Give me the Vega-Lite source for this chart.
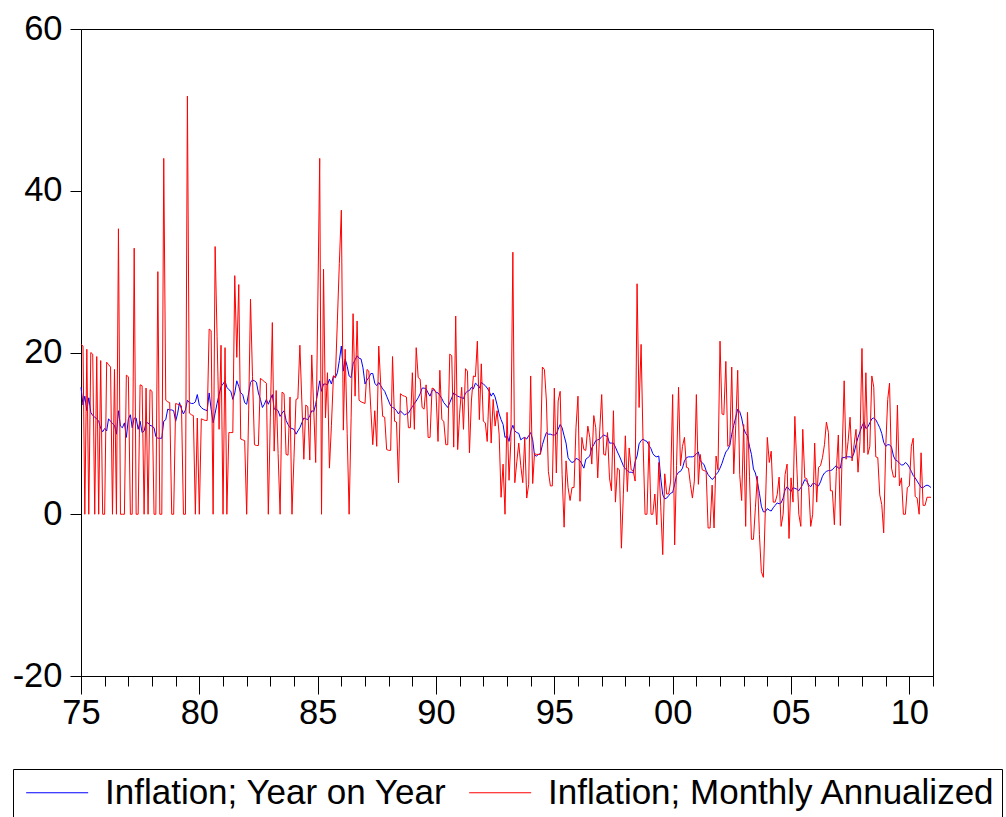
{
"$schema": "https://vega.github.io/schema/vega-lite/v6.json",
"width": 852, "height": 647,
"autosize": {"type": "none"},
"padding": {"left": 81, "top": 29, "right": 73, "bottom": 141},
"background": "white",
"config": {"view": {"stroke": "black", "strokeWidth": 1}, "font": "Liberation Sans"},
"data": {"values": [
{"date":"1975-01","yoy":15.7,"mom":21.0},{"date":"1975-02","yoy":13.5,"mom":20.8},{"date":"1975-03","yoy":14.6,"mom":0},{"date":"1975-04","yoy":12.8,"mom":20.4},{"date":"1975-05","yoy":14.4,"mom":0},{"date":"1975-06","yoy":12.6,"mom":20.0},{"date":"1975-07","yoy":12.2,"mom":19.8},{"date":"1975-08","yoy":12.0,"mom":0},{"date":"1975-09","yoy":11.8,"mom":19.5},{"date":"1975-10","yoy":11.5,"mom":0},{"date":"1975-11","yoy":10.6,"mom":19.0},{"date":"1975-12","yoy":10.2,"mom":0},
{"date":"1976-01","yoy":10.6,"mom":0},{"date":"1976-02","yoy":10.3,"mom":18.8},{"date":"1976-03","yoy":11.8,"mom":18.5},{"date":"1976-04","yoy":11.5,"mom":18.2},{"date":"1976-05","yoy":11.2,"mom":0},{"date":"1976-06","yoy":11.0,"mom":17.9},{"date":"1976-07","yoy":9.9,"mom":0},{"date":"1976-08","yoy":12.8,"mom":35.3},{"date":"1976-09","yoy":10.9,"mom":0},{"date":"1976-10","yoy":10.7,"mom":0},{"date":"1976-11","yoy":11.3,"mom":0},{"date":"1976-12","yoy":9.5,"mom":17.2},
{"date":"1977-01","yoy":11.8,"mom":17.0},{"date":"1977-02","yoy":12.3,"mom":0},{"date":"1977-03","yoy":10.7,"mom":0},{"date":"1977-04","yoy":11.9,"mom":32.9},{"date":"1977-05","yoy":11.9,"mom":0},{"date":"1977-06","yoy":10.5,"mom":0},{"date":"1977-07","yoy":11.5,"mom":16.0},{"date":"1977-08","yoy":10.1,"mom":15.9},{"date":"1977-09","yoy":10.3,"mom":0},{"date":"1977-10","yoy":11.3,"mom":15.6},{"date":"1977-11","yoy":11.3,"mom":0},{"date":"1977-12","yoy":11.0,"mom":15.4},
{"date":"1978-01","yoy":10.9,"mom":15.2},{"date":"1978-02","yoy":10.7,"mom":0},{"date":"1978-03","yoy":9.6,"mom":0},{"date":"1978-04","yoy":9.4,"mom":30.0},{"date":"1978-05","yoy":9.4,"mom":0},{"date":"1978-06","yoy":9.4,"mom":0},{"date":"1978-07","yoy":11.5,"mom":44.0},{"date":"1978-08","yoy":11.7,"mom":14.1},{"date":"1978-09","yoy":13.0,"mom":13.9},{"date":"1978-10","yoy":12.9,"mom":13.8},{"date":"1978-11","yoy":12.9,"mom":0},{"date":"1978-12","yoy":12.8,"mom":0},
{"date":"1979-01","yoy":11.5,"mom":13.7},{"date":"1979-02","yoy":12.5,"mom":13.6},{"date":"1979-03","yoy":13.8,"mom":13.5},{"date":"1979-04","yoy":13.0,"mom":13.4},{"date":"1979-05","yoy":12.4,"mom":0},{"date":"1979-06","yoy":12.9,"mom":0},{"date":"1979-07","yoy":14.1,"mom":51.7},{"date":"1979-08","yoy":13.8,"mom":12.5},{"date":"1979-09","yoy":13.7,"mom":12.3},{"date":"1979-10","yoy":13.7,"mom":12.2},{"date":"1979-11","yoy":13.9,"mom":0},{"date":"1979-12","yoy":14.8,"mom":11.9},
{"date":"1980-01","yoy":13.5,"mom":0},{"date":"1980-02","yoy":13.2,"mom":11.8},{"date":"1980-03","yoy":13.0,"mom":11.7},{"date":"1980-04","yoy":12.9,"mom":11.6},{"date":"1980-05","yoy":12.8,"mom":11.6},{"date":"1980-06","yoy":15.0,"mom":22.9},{"date":"1980-07","yoy":13.0,"mom":22.7},{"date":"1980-08","yoy":11.3,"mom":0},{"date":"1980-09","yoy":12.5,"mom":33.1},{"date":"1980-10","yoy":13.7,"mom":22.0},{"date":"1980-11","yoy":14.8,"mom":10.5},{"date":"1980-12","yoy":15.8,"mom":20.9},
{"date":"1981-01","yoy":16.1,"mom":0},{"date":"1981-02","yoy":16.5,"mom":20.6},{"date":"1981-03","yoy":15.7,"mom":0},{"date":"1981-04","yoy":15.4,"mom":10.1},{"date":"1981-05","yoy":15.2,"mom":10.1},{"date":"1981-06","yoy":14.2,"mom":10.1},{"date":"1981-07","yoy":15.0,"mom":29.5},{"date":"1981-08","yoy":16.5,"mom":19.4},{"date":"1981-09","yoy":15.8,"mom":28.4},{"date":"1981-10","yoy":15.0,"mom":9.3},{"date":"1981-11","yoy":14.8,"mom":9.2},{"date":"1981-12","yoy":13.8,"mom":9.1},
{"date":"1982-01","yoy":13.6,"mom":0},{"date":"1982-02","yoy":15.0,"mom":13.0},{"date":"1982-03","yoy":16.3,"mom":26.6},{"date":"1982-04","yoy":16.6,"mom":17.0},{"date":"1982-05","yoy":16.5,"mom":8.6},{"date":"1982-06","yoy":16.3,"mom":8.5},{"date":"1982-07","yoy":15.0,"mom":8.5},{"date":"1982-08","yoy":14.2,"mom":16.8},{"date":"1982-09","yoy":13.2,"mom":16.6},{"date":"1982-10","yoy":13.6,"mom":16.4},{"date":"1982-11","yoy":14.2,"mom":16.2},{"date":"1982-12","yoy":13.6,"mom":0},
{"date":"1983-01","yoy":14.2,"mom":12.0},{"date":"1983-02","yoy":14.8,"mom":23.7},{"date":"1983-03","yoy":13.0,"mom":7.8},{"date":"1983-04","yoy":13.0,"mom":15.3},{"date":"1983-05","yoy":12.8,"mom":7.5},{"date":"1983-06","yoy":12.1,"mom":0},{"date":"1983-07","yoy":12.5,"mom":15.1},{"date":"1983-08","yoy":12.8,"mom":14.9},{"date":"1983-09","yoy":11.6,"mom":7.4},{"date":"1983-10","yoy":11.1,"mom":7.3},{"date":"1983-11","yoy":10.7,"mom":14.5},{"date":"1983-12","yoy":10.6,"mom":0},
{"date":"1984-01","yoy":10.5,"mom":7.0},{"date":"1984-02","yoy":9.9,"mom":14.2},{"date":"1984-03","yoy":10.3,"mom":14.3},{"date":"1984-04","yoy":10.7,"mom":20.9},{"date":"1984-05","yoy":11.3,"mom":14.0},{"date":"1984-06","yoy":11.9,"mom":6.8},{"date":"1984-07","yoy":11.8,"mom":13.5},{"date":"1984-08","yoy":11.7,"mom":13.3},{"date":"1984-09","yoy":12.2,"mom":6.7},{"date":"1984-10","yoy":12.8,"mom":19.7},{"date":"1984-11","yoy":12.7,"mom":13.0},{"date":"1984-12","yoy":13.6,"mom":6.4},
{"date":"1985-01","yoy":15.0,"mom":25.0},{"date":"1985-02","yoy":16.5,"mom":44.0},{"date":"1985-03","yoy":15.2,"mom":0},{"date":"1985-04","yoy":16.1,"mom":30.3},{"date":"1985-05","yoy":16.1,"mom":11.9},{"date":"1985-06","yoy":16.0,"mom":17.5},{"date":"1985-07","yoy":16.7,"mom":5.7},{"date":"1985-08","yoy":16.1,"mom":11.0},{"date":"1985-09","yoy":17.1,"mom":17.1},{"date":"1985-10","yoy":16.9,"mom":16.9},{"date":"1985-11","yoy":17.5,"mom":24.0},{"date":"1985-12","yoy":19.0,"mom":31.0},
{"date":"1986-01","yoy":20.8,"mom":37.6},{"date":"1986-02","yoy":17.7,"mom":10.4},{"date":"1986-03","yoy":19.2,"mom":20.4},{"date":"1986-04","yoy":18.3,"mom":10.0},{"date":"1986-05","yoy":17.1,"mom":0},{"date":"1986-06","yoy":16.9,"mom":12.0},{"date":"1986-07","yoy":18.6,"mom":24.8},{"date":"1986-08","yoy":19.1,"mom":14.6},{"date":"1986-09","yoy":19.6,"mom":23.9},{"date":"1986-10","yoy":19.3,"mom":14.1},{"date":"1986-11","yoy":19.2,"mom":13.9},{"date":"1986-12","yoy":18.1,"mom":13.8},
{"date":"1987-01","yoy":16.1,"mom":13.7},{"date":"1987-02","yoy":16.6,"mom":17.9},{"date":"1987-03","yoy":16.9,"mom":17.7},{"date":"1987-04","yoy":17.4,"mom":13.0},{"date":"1987-05","yoy":17.4,"mom":8.6},{"date":"1987-06","yoy":16.2,"mom":12.8},{"date":"1987-07","yoy":15.9,"mom":8.4},{"date":"1987-08","yoy":16.3,"mom":20.8},{"date":"1987-09","yoy":15.9,"mom":16.0},{"date":"1987-10","yoy":15.5,"mom":12.1},{"date":"1987-11","yoy":15.2,"mom":12.0},{"date":"1987-12","yoy":14.6,"mom":8.0},
{"date":"1988-01","yoy":14.0,"mom":7.9},{"date":"1988-02","yoy":13.4,"mom":7.9},{"date":"1988-03","yoy":13.2,"mom":19.5},{"date":"1988-04","yoy":13.1,"mom":11.5},{"date":"1988-05","yoy":12.8,"mom":11.4},{"date":"1988-06","yoy":12.4,"mom":3.9},{"date":"1988-07","yoy":12.8,"mom":14.9},{"date":"1988-08","yoy":12.5,"mom":14.7},{"date":"1988-09","yoy":12.3,"mom":14.6},{"date":"1988-10","yoy":12.4,"mom":14.5},{"date":"1988-11","yoy":12.5,"mom":10.7},{"date":"1988-12","yoy":12.9,"mom":10.7},
{"date":"1989-01","yoy":13.3,"mom":17.5},{"date":"1989-02","yoy":13.7,"mom":10.5},{"date":"1989-03","yoy":14.0,"mom":20.6},{"date":"1989-04","yoy":14.4,"mom":16.9},{"date":"1989-05","yoy":14.9,"mom":16.7},{"date":"1989-06","yoy":15.6,"mom":13.2},{"date":"1989-07","yoy":15.6,"mom":13.0},{"date":"1989-08","yoy":15.5,"mom":16.0},{"date":"1989-09","yoy":15.0,"mom":9.5},{"date":"1989-10","yoy":14.6,"mom":9.5},{"date":"1989-11","yoy":15.3,"mom":15.6},{"date":"1989-12","yoy":15.4,"mom":15.5},
{"date":"1990-01","yoy":15.1,"mom":15.0},{"date":"1990-02","yoy":15.0,"mom":9.0},{"date":"1990-03","yoy":14.7,"mom":17.8},{"date":"1990-04","yoy":14.3,"mom":11.7},{"date":"1990-05","yoy":13.8,"mom":11.5},{"date":"1990-06","yoy":13.5,"mom":8.6},{"date":"1990-07","yoy":13.2,"mom":8.6},{"date":"1990-08","yoy":13.8,"mom":19.8},{"date":"1990-09","yoy":14.4,"mom":19.6},{"date":"1990-10","yoy":15.0,"mom":8.3},{"date":"1990-11","yoy":14.8,"mom":24.5},{"date":"1990-12","yoy":14.6,"mom":8.0},
{"date":"1991-01","yoy":14.5,"mom":12.5},{"date":"1991-02","yoy":14.4,"mom":15.7},{"date":"1991-03","yoy":14.3,"mom":10.5},{"date":"1991-04","yoy":15.0,"mom":18.0},{"date":"1991-05","yoy":15.2,"mom":17.7},{"date":"1991-06","yoy":15.3,"mom":7.6},{"date":"1991-07","yoy":15.7,"mom":14.0},{"date":"1991-08","yoy":15.5,"mom":17.1},{"date":"1991-09","yoy":16.2,"mom":17.0},{"date":"1991-10","yoy":16.0,"mom":21.4},{"date":"1991-11","yoy":15.6,"mom":11.7},{"date":"1991-12","yoy":16.3,"mom":18.6},
{"date":"1992-01","yoy":16.1,"mom":11.5},{"date":"1992-02","yoy":15.9,"mom":11.3},{"date":"1992-03","yoy":15.6,"mom":9.0},{"date":"1992-04","yoy":15.2,"mom":15.7},{"date":"1992-05","yoy":14.6,"mom":8.8},{"date":"1992-06","yoy":15.0,"mom":14.2},{"date":"1992-07","yoy":14.5,"mom":10.9},{"date":"1992-08","yoy":13.5,"mom":12.8},{"date":"1992-09","yoy":12.4,"mom":9.9},{"date":"1992-10","yoy":11.7,"mom":2.1},{"date":"1992-11","yoy":11.1,"mom":6.2},{"date":"1992-12","yoy":9.5,"mom":0},
{"date":"1993-01","yoy":9.7,"mom":12.6},{"date":"1993-02","yoy":9.0,"mom":4.2},{"date":"1993-03","yoy":10.3,"mom":9.0},{"date":"1993-04","yoy":11.0,"mom":32.4},{"date":"1993-05","yoy":10.3,"mom":3.9},{"date":"1993-06","yoy":10.1,"mom":6.5},{"date":"1993-07","yoy":10.0,"mom":8.8},{"date":"1993-08","yoy":9.2,"mom":6.0},{"date":"1993-09","yoy":9.4,"mom":3.9},{"date":"1993-10","yoy":9.5,"mom":9.5},{"date":"1993-11","yoy":9.3,"mom":2.0},{"date":"1993-12","yoy":9.7,"mom":3.7},
{"date":"1994-01","yoy":10.1,"mom":17.1},{"date":"1994-02","yoy":9.2,"mom":3.8},{"date":"1994-03","yoy":7.3,"mom":7.5},{"date":"1994-04","yoy":7.2,"mom":7.4},{"date":"1994-05","yoy":7.4,"mom":7.4},{"date":"1994-06","yoy":7.5,"mom":7.4},{"date":"1994-07","yoy":8.6,"mom":18.2},{"date":"1994-08","yoy":9.4,"mom":17.9},{"date":"1994-09","yoy":10.1,"mom":14.0},{"date":"1994-10","yoy":9.9,"mom":5.3},{"date":"1994-11","yoy":9.9,"mom":3.5},{"date":"1994-12","yoy":9.8,"mom":3.5},
{"date":"1995-01","yoy":9.8,"mom":15.6},{"date":"1995-02","yoy":9.9,"mom":5.1},{"date":"1995-03","yoy":10.5,"mom":14.0},{"date":"1995-04","yoy":11.1,"mom":15.2},{"date":"1995-05","yoy":10.7,"mom":4.9},{"date":"1995-06","yoy":9.7,"mom":-1.6},{"date":"1995-07","yoy":8.8,"mom":6.6},{"date":"1995-08","yoy":7.0,"mom":3.3},{"date":"1995-09","yoy":6.6,"mom":1.7},{"date":"1995-10","yoy":6.4,"mom":3.3},{"date":"1995-11","yoy":6.5,"mom":3.3},{"date":"1995-12","yoy":6.9,"mom":10.7},
{"date":"1996-01","yoy":6.8,"mom":14.6},{"date":"1996-02","yoy":6.6,"mom":1.6},{"date":"1996-03","yoy":6.2,"mom":9.5},{"date":"1996-04","yoy":5.7,"mom":8.0},{"date":"1996-05","yoy":6.8,"mom":7.9},{"date":"1996-06","yoy":7.0,"mom":10.9},{"date":"1996-07","yoy":7.2,"mom":9.5},{"date":"1996-08","yoy":8.2,"mom":6.2},{"date":"1996-09","yoy":8.6,"mom":12.2},{"date":"1996-10","yoy":9.1,"mom":10.7},{"date":"1996-11","yoy":9.2,"mom":4.5},{"date":"1996-12","yoy":9.3,"mom":10.3},
{"date":"1997-01","yoy":9.6,"mom":14.8},{"date":"1997-02","yoy":9.8,"mom":7.4},{"date":"1997-03","yoy":9.7,"mom":7.3},{"date":"1997-04","yoy":9.6,"mom":10.1},{"date":"1997-05","yoy":8.8,"mom":4.5},{"date":"1997-06","yoy":8.8,"mom":2.9},{"date":"1997-07","yoy":8.8,"mom":12.8},{"date":"1997-08","yoy":8.3,"mom":1.5},{"date":"1997-09","yoy":7.7,"mom":5.7},{"date":"1997-10","yoy":7.2,"mom":5.5},{"date":"1997-11","yoy":6.6,"mom":-4.2},{"date":"1997-12","yoy":6.0,"mom":2.4},
{"date":"1998-01","yoy":5.6,"mom":9.7},{"date":"1998-02","yoy":5.4,"mom":2.8},{"date":"1998-03","yoy":5.2,"mom":8.2},{"date":"1998-04","yoy":5.2,"mom":5.5},{"date":"1998-05","yoy":5.1,"mom":5.4},{"date":"1998-06","yoy":6.5,"mom":4.1},{"date":"1998-07","yoy":7.2,"mom":28.5},{"date":"1998-08","yoy":8.7,"mom":13.2},{"date":"1998-09","yoy":9.1,"mom":21.0},{"date":"1998-10","yoy":9.3,"mom":9.0},{"date":"1998-11","yoy":9.1,"mom":0},{"date":"1998-12","yoy":9.0,"mom":0},
{"date":"1999-01","yoy":8.5,"mom":9.0},{"date":"1999-02","yoy":8.1,"mom":0},{"date":"1999-03","yoy":7.5,"mom":0},{"date":"1999-04","yoy":7.2,"mom":2.5},{"date":"1999-05","yoy":7.1,"mom":-1.3},{"date":"1999-06","yoy":7.2,"mom":6.4},{"date":"1999-07","yoy":4.5,"mom":1.0},{"date":"1999-08","yoy":2.4,"mom":-5.0},{"date":"1999-09","yoy":1.9,"mom":5.0},{"date":"1999-10","yoy":2.0,"mom":2.5},{"date":"1999-11","yoy":2.3,"mom":2.5},{"date":"1999-12","yoy":2.6,"mom":4.1},
{"date":"2000-01","yoy":2.7,"mom":14.8},{"date":"2000-02","yoy":3.7,"mom":-3.8},{"date":"2000-03","yoy":4.8,"mom":6.0},{"date":"2000-04","yoy":5.2,"mom":15.7},{"date":"2000-05","yoy":5.3,"mom":6.0},{"date":"2000-06","yoy":5.7,"mom":8.4},{"date":"2000-07","yoy":6.6,"mom":9.5},{"date":"2000-08","yoy":7.0,"mom":5.8},{"date":"2000-09","yoy":7.1,"mom":5.7},{"date":"2000-10","yoy":7.1,"mom":3.7},{"date":"2000-11","yoy":7.1,"mom":2.0},{"date":"2000-12","yoy":7.2,"mom":4.1},
{"date":"2001-01","yoy":7.5,"mom":14.8},{"date":"2001-02","yoy":7.7,"mom":3.7},{"date":"2001-03","yoy":6.6,"mom":7.4},{"date":"2001-04","yoy":6.4,"mom":5.5},{"date":"2001-05","yoy":6.1,"mom":5.4},{"date":"2001-06","yoy":5.4,"mom":5.3},{"date":"2001-07","yoy":4.9,"mom":-1.7},{"date":"2001-08","yoy":4.6,"mom":-1.7},{"date":"2001-09","yoy":4.3,"mom":3.6},{"date":"2001-10","yoy":4.5,"mom":-1.7},{"date":"2001-11","yoy":4.9,"mom":7.2},{"date":"2001-12","yoy":5.2,"mom":5.5},
{"date":"2002-01","yoy":5.7,"mom":21.4},{"date":"2002-02","yoy":6.3,"mom":12.4},{"date":"2002-03","yoy":7.0,"mom":12.3},{"date":"2002-04","yoy":7.7,"mom":18.9},{"date":"2002-05","yoy":8.0,"mom":8.4},{"date":"2002-06","yoy":8.5,"mom":8.6},{"date":"2002-07","yoy":9.9,"mom":18.2},{"date":"2002-08","yoy":11.0,"mom":5.0},{"date":"2002-09","yoy":12.0,"mom":11.0},{"date":"2002-10","yoy":13.0,"mom":17.8},{"date":"2002-11","yoy":12.7,"mom":4.9},{"date":"2002-12","yoy":11.9,"mom":1.7},
{"date":"2003-01","yoy":10.6,"mom":11.1},{"date":"2003-02","yoy":10.0,"mom":-1.5},{"date":"2003-03","yoy":9.7,"mom":12.6},{"date":"2003-04","yoy":8.4,"mom":4.7},{"date":"2003-05","yoy":7.4,"mom":-3.1},{"date":"2003-06","yoy":5.6,"mom":-3.1},{"date":"2003-07","yoy":5.1,"mom":0.8},{"date":"2003-08","yoy":4.0,"mom":4.7},{"date":"2003-09","yoy":2.6,"mom":-2.5},{"date":"2003-10","yoy":1.0,"mom":-7.1},{"date":"2003-11","yoy":0.3,"mom":-7.8},{"date":"2003-12","yoy":0.3,"mom":0.4},
{"date":"2004-01","yoy":0.7,"mom":9.5},{"date":"2004-02","yoy":0.5,"mom":6.4},{"date":"2004-03","yoy":0.4,"mom":7.8},{"date":"2004-04","yoy":0.8,"mom":1.5},{"date":"2004-05","yoy":1.1,"mom":1.5},{"date":"2004-06","yoy":1.4,"mom":2.4},{"date":"2004-07","yoy":1.3,"mom":4.6},{"date":"2004-08","yoy":1.4,"mom":-1.5},{"date":"2004-09","yoy":2.0,"mom":0},{"date":"2004-10","yoy":3.0,"mom":4.9},{"date":"2004-11","yoy":3.4,"mom":6.2},{"date":"2004-12","yoy":3.1,"mom":-3.0},
{"date":"2005-01","yoy":2.8,"mom":4.5},{"date":"2005-02","yoy":3.3,"mom":1.5},{"date":"2005-03","yoy":3.2,"mom":12.1},{"date":"2005-04","yoy":3.1,"mom":5.7},{"date":"2005-05","yoy":2.9,"mom":0},{"date":"2005-06","yoy":3.3,"mom":-1.5},{"date":"2005-07","yoy":3.7,"mom":10.5},{"date":"2005-08","yoy":4.3,"mom":4.5},{"date":"2005-09","yoy":4.1,"mom":4.4},{"date":"2005-10","yoy":3.6,"mom":3.3},{"date":"2005-11","yoy":3.4,"mom":-1.5},{"date":"2005-12","yoy":3.8,"mom":0},
{"date":"2006-01","yoy":3.8,"mom":8.8},{"date":"2006-02","yoy":3.6,"mom":1.5},{"date":"2006-03","yoy":3.5,"mom":5.8},{"date":"2006-04","yoy":4.0,"mom":6.0},{"date":"2006-05","yoy":4.7,"mom":7.0},{"date":"2006-06","yoy":5.1,"mom":8.6},{"date":"2006-07","yoy":5.3,"mom":11.4},{"date":"2006-08","yoy":5.4,"mom":10.1},{"date":"2006-09","yoy":5.4,"mom":2.9},{"date":"2006-10","yoy":5.5,"mom":2.9},{"date":"2006-11","yoy":5.8,"mom":-1.3},{"date":"2006-12","yoy":6.0,"mom":5.3},
{"date":"2007-01","yoy":5.7,"mom":9.8},{"date":"2007-02","yoy":5.7,"mom":-1.4},{"date":"2007-03","yoy":7.0,"mom":7.4},{"date":"2007-04","yoy":7.0,"mom":16.5},{"date":"2007-05","yoy":7.1,"mom":6.8},{"date":"2007-06","yoy":7.1,"mom":9.0},{"date":"2007-07","yoy":7.1,"mom":12.0},{"date":"2007-08","yoy":7.0,"mom":6.6},{"date":"2007-09","yoy":7.6,"mom":8.6},{"date":"2007-10","yoy":8.6,"mom":10.5},{"date":"2007-11","yoy":9.5,"mom":5.2},{"date":"2007-12","yoy":10.2,"mom":9.0},
{"date":"2008-01","yoy":10.9,"mom":20.5},{"date":"2008-02","yoy":11.4,"mom":7.6},{"date":"2008-03","yoy":10.6,"mom":17.5},{"date":"2008-04","yoy":10.8,"mom":7.4},{"date":"2008-05","yoy":11.3,"mom":8.4},{"date":"2008-06","yoy":11.8,"mom":17.1},{"date":"2008-07","yoy":11.9,"mom":15.7},{"date":"2008-08","yoy":11.7,"mom":7.1},{"date":"2008-09","yoy":11.2,"mom":7.0},{"date":"2008-10","yoy":10.7,"mom":2.4},{"date":"2008-11","yoy":10.0,"mom":1.2},{"date":"2008-12","yoy":8.9,"mom":-2.3},
{"date":"2009-01","yoy":8.4,"mom":8.2},{"date":"2009-02","yoy":8.6,"mom":14.2},{"date":"2009-03","yoy":8.6,"mom":16.2},{"date":"2009-04","yoy":8.3,"mom":5.7},{"date":"2009-05","yoy":7.2,"mom":4.6},{"date":"2009-06","yoy":6.7,"mom":4.6},{"date":"2009-07","yoy":6.6,"mom":13.5},{"date":"2009-08","yoy":6.3,"mom":3.5},{"date":"2009-09","yoy":6.1,"mom":4.5},{"date":"2009-10","yoy":6.1,"mom":0},{"date":"2009-11","yoy":6.4,"mom":0},{"date":"2009-12","yoy":6.2,"mom":3.3},
{"date":"2010-01","yoy":5.8,"mom":3.5},{"date":"2010-02","yoy":5.3,"mom":8.4},{"date":"2010-03","yoy":4.8,"mom":9.4},{"date":"2010-04","yoy":4.5,"mom":2.2},{"date":"2010-05","yoy":4.1,"mom":2.0},{"date":"2010-06","yoy":3.7,"mom":0},{"date":"2010-07","yoy":3.3,"mom":7.6},{"date":"2010-08","yoy":3.3,"mom":1.1},{"date":"2010-09","yoy":3.5,"mom":1.1},{"date":"2010-10","yoy":3.6,"mom":2.1},{"date":"2010-11","yoy":3.5,"mom":2.1},{"date":"2010-12","yoy":3.3,"mom":2.1}
]},
"encoding": {
  "x": {"field": "date", "type": "temporal",
    "scale": {"type": "utc", "domain": [{"year": 1975, "month": 1, "date": 1, "utc": true}, {"year": 2011, "month": 1, "date": 1, "utc": true}]},
    "axis": {"title": null, "tickCount": {"interval": "year", "step": 1},
      "labelExpr": "utcyear(datum.value) % 5 == 0 ? utcFormat(datum.value, '%y') : ''",
      "tickSize": {"condition": {"test": "utcyear(datum.value) % 5 == 0", "value": 18}, "value": 10},
      "labelFontSize": 34.5, "labelPadding": 2, "labelOverlap": false, "labelFlush": false, "grid": false,
      "domainColor": "black", "tickColor": "black", "labelColor": "black", "labelFont": "Liberation Sans"}}
},
"layer": [
  {"mark": {"type": "line", "strokeWidth": 1},
   "encoding": {
     "y": {"field": "yoy", "type": "quantitative", "scale": {"domain": [-20, 60]},
       "axis": {"title": null, "values": [-20, 0, 20, 40, 60], "tickSize": 11, "labelPadding": 8, "labelFontSize": 34.5, "grid": false,
         "labelExpr": "datum.value < 0 ? '-' + abs(datum.value) : '' + datum.value",
         "domainColor": "black", "tickColor": "black", "labelColor": "black", "labelFont": "Liberation Sans"}},
     "color": {"datum": "Inflation; Year on Year",
       "scale": {"domain": ["Inflation; Year on Year", "Inflation; Monthly Annualized"], "range": ["#0000ff", "#ff0000"]},
       "legend": {"orient": "none", "legendX": -68, "legendY": 740, "direction": "horizontal", "columns": 2, "title": null,
         "strokeColor": "black", "padding": 6, "symbolType": "M-1,0H5", "symbolSize": 427, "symbolStrokeWidth": 1,
         "labelFontSize": 35, "labelFont": "Liberation Sans", "labelLimit": 700, "labelOffset": 51, "columnPadding": 15, "labelColor": "black"}}
   }},
  {"mark": {"type": "line", "strokeWidth": 1},
   "encoding": {
     "y": {"field": "mom", "type": "quantitative"},
     "color": {"datum": "Inflation; Monthly Annualized"}
   }}
]
}
